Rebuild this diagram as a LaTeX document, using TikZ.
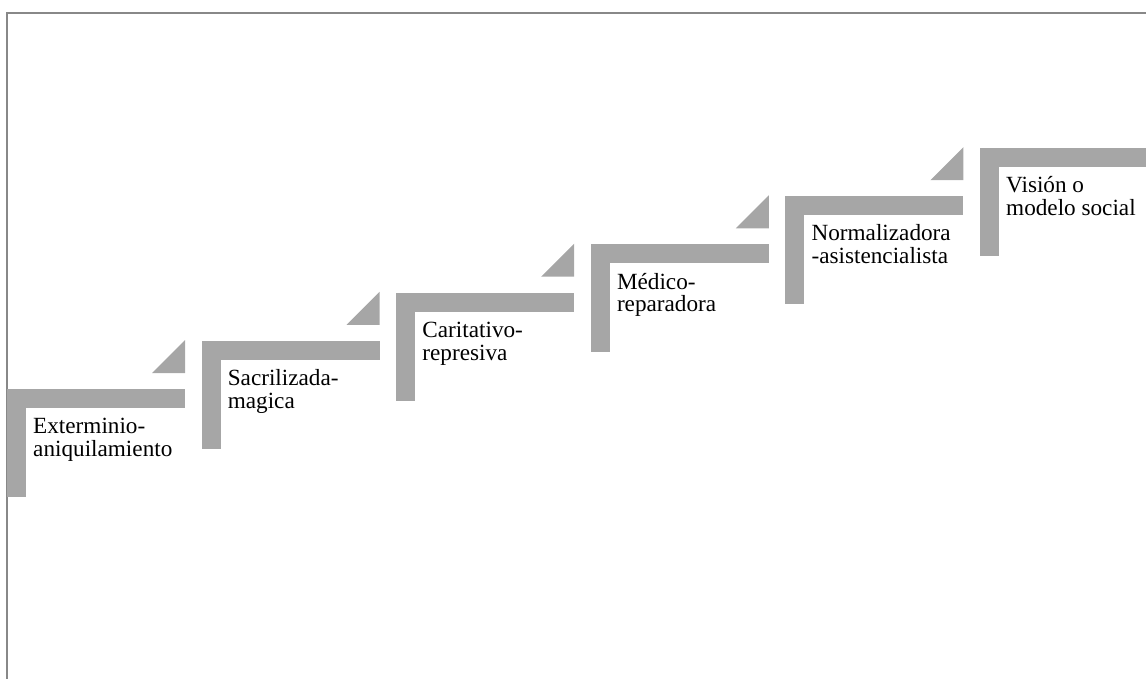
\documentclass[tikz,border=0pt]{standalone}
\usepackage{fontspec}
\setmainfont{Liberation Serif}
\definecolor{stepgray}{HTML}{A6A6A6}
\definecolor{framegray}{HTML}{888888}
\begin{document}
\begin{tikzpicture}[x=1pt,y=-1pt,
  stepfill/.style={fill=stepgray,draw=none},
  steplabel/.style={anchor=base west,inner sep=0pt,align=left,
    font=\fontsize{23.2}{22.8}\selectfont},
  frameline/.style={draw=framegray,line width=2pt}]
\useasboundingbox (0,0) rectangle (1146,679);
\begin{scope}
\clip (0,0) rectangle (1146,679);
\draw[frameline] (7,679) -- (7,13) -- (1146,13);
\foreach \i/\txt in {0/{Exterminio-\\aniquilamiento},1/{Sacrilizada-\\magica},2/{Caritativo-\\represiva},3/{Médico-\\reparadora},4/{Normalizadora\\-asistencialista},5/{Visión o\\modelo social}}{
  \pgfmathsetmacro\xo{7+194.6*\i}
  \pgfmathsetmacro\yo{389-48.2*\i}
  \fill[stepfill] (\xo,\yo) rectangle ++(178,19);
  \fill[stepfill] (\xo,\yo) rectangle ++(19,108);
  \ifnum\i<5
    \fill[stepfill] (\xo+145,\yo-16) -- (\xo+178,\yo-16) -- (\xo+178,\yo-49) -- cycle;
  \fi
  \node[steplabel] (lab\i) at (\xo+26,\yo+67.5) {\txt};
}
\end{scope}
\end{tikzpicture}
\end{document}
